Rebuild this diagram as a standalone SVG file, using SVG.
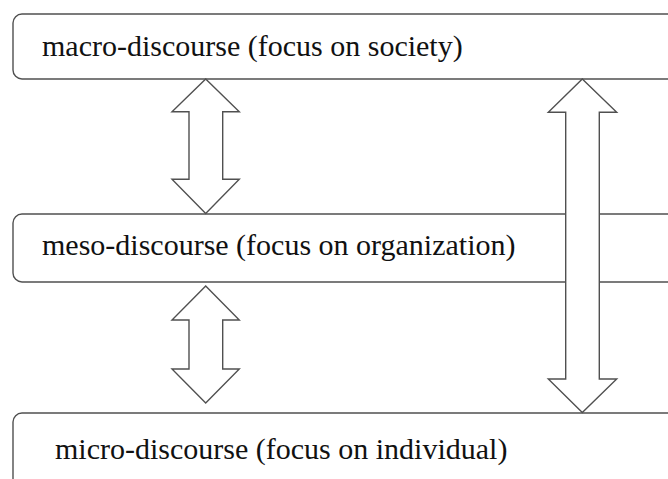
<svg xmlns="http://www.w3.org/2000/svg" width="668" height="479" viewBox="0 0 668 479">
  <style>
    .box { fill: #ffffff; stroke: #505050; stroke-width: 1.4; }
    .arrow { fill: #ffffff; stroke: #505050; stroke-width: 1.4; stroke-linejoin: miter; }
    .label { font-family: "Liberation Serif", "Times New Roman", serif; font-size: 30px; fill: #111111; }
  </style>
  <rect width="668" height="479" fill="#ffffff"/>

  <g id="macro">
    <rect class="box" x="13" y="14" width="680" height="65" rx="9" ry="9"/>
    <text class="label" x="42" y="56">macro-discourse (focus on society)</text>
  </g>

  <g id="meso">
    <rect class="box" x="13" y="214" width="680" height="68" rx="9" ry="9"/>
    <text class="label" x="42" y="255">meso-discourse (focus on organization)</text>
  </g>

  <g id="micro">
    <rect class="box" x="13" y="413" width="680" height="90" rx="9" ry="9"/>
    <text class="label" x="55" y="459">micro-discourse (focus on individual)</text>
  </g>

  <g id="connectors">
    <!-- macro <-> meso -->
    <polygon class="arrow" points="205.7,79 239.3,111.7 222.7,111.7 222.7,179.3 239.3,179.3 205.7,213.5 172,179.3 189,179.3 189,111.7 172,111.7"/>
    <!-- meso <-> micro -->
    <polygon class="arrow" points="205.7,286 239.3,320 222.7,320 222.7,369 239.3,369 205.7,403 172,369 189,369 189,320 172,320"/>
    <!-- macro <-> micro -->
    <polygon class="arrow" points="582.3,79 616.7,112.3 599.3,112.3 599.3,379 616.7,379 582.3,412.5 548.3,379 565.7,379 565.7,112.3 548.3,112.3"/>
  </g>
</svg>
